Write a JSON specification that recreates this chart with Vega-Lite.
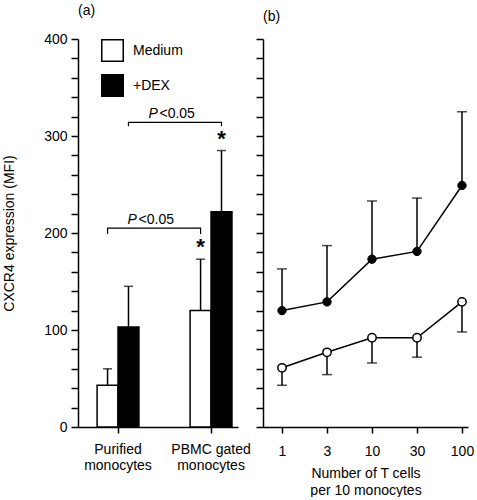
{
  "$schema": "https://vega.github.io/schema/vega-lite/v6.json",
  "autosize": {"type": "pad"},
  "padding": {"left": 2, "top": 4, "right": 0, "bottom": 0},
  "spacing": 25,
  "bounds": "flush",
  "config": {
    "font": "Liberation Sans",
    "view": {"stroke": null},
    "axis": {
      "domainColor": "black", "domainWidth": 1.5, "tickColor": "black", "tickWidth": 1.5,
      "labelColor": "black", "labelFontSize": 14, "titleFontSize": 14, "titleFontWeight": "normal",
      "titleColor": "black", "grid": false, "labelFont": "Liberation Sans", "titleFont": "Liberation Sans"
    },
    "axisY": {
      "tickCount": 20,
      "labelExpr": "datum.value % 100 === 0 ? datum.label : ''",
      "labelOverlap": false,
      "tickSize": 7,
      "labelPadding": 4,
      "titlePadding": 27
    },
    "title": {"fontSize": 14, "fontWeight": "normal", "anchor": "start", "frame": "group", "offset": 14, "color": "black", "font": "Liberation Sans"}
  },
  "datasets": {
    "bars": [
      {"cell": "Purified monocytes", "group": "Medium", "mfi": 43, "upper": 60, "sig": ""},
      {"cell": "Purified monocytes", "group": "+DEX", "mfi": 103, "upper": 145, "sig": ""},
      {"cell": "PBMC gated monocytes", "group": "Medium", "mfi": 120, "upper": 173, "sig": "*"},
      {"cell": "PBMC gated monocytes", "group": "+DEX", "mfi": 222, "upper": 285, "sig": "*"}
    ],
    "brackets": [
      {"b": "lo", "k": 1, "cell": "Purified monocytes", "group": "Medium", "y": 199},
      {"b": "lo", "k": 2, "cell": "Purified monocytes", "group": "Medium", "y": 205},
      {"b": "lo", "k": 3, "cell": "PBMC gated monocytes", "group": "Medium", "y": 205},
      {"b": "lo", "k": 4, "cell": "PBMC gated monocytes", "group": "Medium", "y": 199},
      {"b": "hi", "k": 1, "cell": "Purified monocytes", "group": "+DEX", "y": 310},
      {"b": "hi", "k": 2, "cell": "Purified monocytes", "group": "+DEX", "y": 314},
      {"b": "hi", "k": 3, "cell": "PBMC gated monocytes", "group": "+DEX", "y": 314},
      {"b": "hi", "k": 4, "cell": "PBMC gated monocytes", "group": "+DEX", "y": 310}
    ],
    "ptext": [
      {"cell": "Purified monocytes", "group": "Medium", "y": 213},
      {"cell": "Purified monocytes", "group": "+DEX", "y": 323}
    ],
    "tcells": [
      {"n": "1", "group": "+DEX", "v": 120, "err": 163},
      {"n": "3", "group": "+DEX", "v": 129, "err": 187},
      {"n": "10", "group": "+DEX", "v": 173, "err": 233},
      {"n": "30", "group": "+DEX", "v": 181, "err": 236},
      {"n": "100", "group": "+DEX", "v": 249, "err": 325},
      {"n": "1", "group": "Medium", "v": 61, "err": 43},
      {"n": "3", "group": "Medium", "v": 77, "err": 54},
      {"n": "10", "group": "Medium", "v": 92, "err": 66},
      {"n": "30", "group": "Medium", "v": 92, "err": 72},
      {"n": "100", "group": "Medium", "v": 129, "err": 98}
    ]
  },
  "hconcat": [
    {
      "width": 160,
      "height": 388,
      "title": {"text": "(a)"},
      "encoding": {
        "x": {
          "field": "cell", "type": "nominal",
          "sort": ["Purified monocytes", "PBMC gated monocytes"],
          "scale": {"domain": ["Purified monocytes", "PBMC gated monocytes"], "paddingInner": 0.55, "paddingOuter": 0.135, "align": 0.76},
          "axis": {
            "title": null, "labelAngle": 0, "tickSize": 6, "labelPadding": 9, "labelLineHeight": 16,
            "labelExpr": "datum.value == 'Purified monocytes' ? ['Purified', 'monocytes'] : ['PBMC gated', 'monocytes']"
          }
        },
        "xOffset": {"field": "group", "type": "nominal", "sort": ["Medium", "+DEX"], "scale": {"domain": ["Medium", "+DEX"], "paddingInner": 0, "paddingOuter": 0}}
      },
      "layer": [
        {
          "data": {"name": "bars"},
          "mark": {"type": "bar", "stroke": "black", "strokeWidth": 1.5},
          "encoding": {
            "y": {
              "field": "mfi", "type": "quantitative",
              "scale": {"domain": [0, 400], "nice": false},
              "axis": {"title": "CXCR4 expression (MFI)"}
            },
            "fill": {
              "field": "group", "type": "nominal",
              "scale": {"domain": ["Medium", "+DEX"], "range": ["white", "black"]},
              "legend": {
                "title": null, "orient": "none", "legendX": 23, "legendY": 0,
                "symbolType": "square", "symbolSize": 462, "symbolStrokeColor": "black", "symbolStrokeWidth": 1.5,
                "labelFontSize": 14, "labelOffset": 9, "rowPadding": 6, "labelColor": "black", "labelFont": "Liberation Sans"
              }
            }
          }
        },
        {
          "data": {"name": "bars"},
          "mark": {"type": "rule", "strokeWidth": 1.5, "color": "black"},
          "encoding": {
            "y": {"field": "mfi", "type": "quantitative"},
            "y2": {"field": "upper"}
          }
        },
        {
          "data": {"name": "bars"},
          "mark": {"type": "tick", "thickness": 1.5, "size": 9, "color": "black", "orient": "horizontal"},
          "encoding": {
            "y": {"field": "upper", "type": "quantitative"}
          }
        },
        {
          "data": {"name": "bars"},
          "mark": {"type": "text", "fontSize": 22, "fontWeight": "bold", "baseline": "alphabetic", "dy": -5, "color": "black"},
          "encoding": {
            "y": {"field": "upper", "type": "quantitative"},
            "text": {"field": "sig"}
          }
        },
        {
          "data": {"name": "brackets"},
          "mark": {"type": "line", "strokeWidth": 1.2, "color": "black"},
          "encoding": {
            "y": {"field": "y", "type": "quantitative"},
            "detail": {"field": "b"},
            "order": {"field": "k"}
          }
        },
        {
          "data": {"name": "ptext"},
          "mark": {"type": "text", "text": "P", "fontStyle": "italic", "fontSize": 14, "align": "left", "baseline": "middle", "dx": 20, "color": "black"},
          "encoding": {
            "y": {"field": "y", "type": "quantitative"}
          }
        },
        {
          "data": {"name": "ptext"},
          "mark": {"type": "text", "text": "<0.05", "fontSize": 14, "align": "left", "baseline": "middle", "dx": 31, "color": "black"},
          "encoding": {
            "y": {"field": "y", "type": "quantitative"}
          }
        }
      ]
    },
    {
      "width": 205,
      "height": 388,
      "title": {"text": "(b)"},
      "data": {"name": "tcells"},
      "encoding": {
        "x": {
          "field": "n", "type": "ordinal",
          "sort": ["1", "3", "10", "30", "100"],
          "scale": {"type": "point", "padding": 0.278, "align": 0.76},
          "axis": {"labelAngle": 0, "tickSize": 6, "labelPadding": 11, "title": ["Number of T cells", "per 10 monocytes"], "titlePadding": 8, "titleLineHeight": 17}
        }
      },
      "layer": [
        {
          "mark": {"type": "rule", "strokeWidth": 1.5, "color": "black"},
          "encoding": {
            "y": {
              "field": "v", "type": "quantitative",
              "scale": {"domain": [0, 400], "nice": false},
              "axis": {"title": null, "labels": false}
            },
            "y2": {"field": "err"}
          }
        },
        {
          "mark": {"type": "tick", "thickness": 1.5, "size": 10, "color": "black", "orient": "horizontal"},
          "encoding": {"y": {"field": "err", "type": "quantitative"}}
        },
        {
          "mark": {"type": "line", "strokeWidth": 1.5, "color": "black"},
          "encoding": {"y": {"field": "v", "type": "quantitative"}, "detail": {"field": "group"}}
        },
        {
          "transform": [{"filter": "datum.group == 'Medium'"}],
          "mark": {"type": "point", "shape": "circle", "filled": true, "fill": "white", "stroke": "black", "strokeWidth": 1.5, "size": 70, "opacity": 1},
          "encoding": {"y": {"field": "v", "type": "quantitative"}}
        },
        {
          "transform": [{"filter": "datum.group == '+DEX'"}],
          "mark": {"type": "point", "shape": "circle", "filled": true, "fill": "black", "stroke": "black", "strokeWidth": 1, "size": 70, "opacity": 1},
          "encoding": {"y": {"field": "v", "type": "quantitative"}}
        }
      ]
    }
  ]
}
